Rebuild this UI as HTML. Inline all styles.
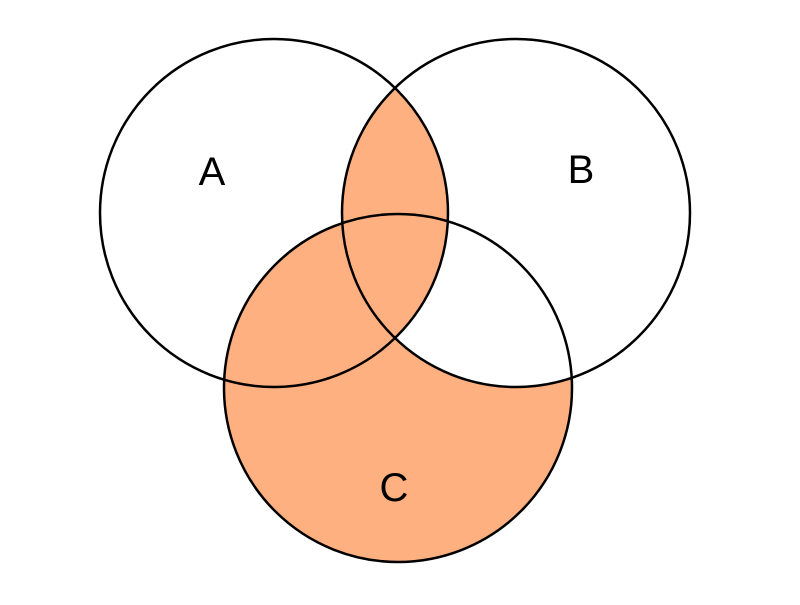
<!DOCTYPE html>
<html><head><meta charset="utf-8"><style>html,body{margin:0;padding:0;background:#fff}</style></head>
<body>
<svg width="800" height="600" viewBox="0 0 800 600" xmlns="http://www.w3.org/2000/svg">
<defs>
<clipPath id="cC"><circle cx="398" cy="388" r="174"/></clipPath>
<clipPath id="cB"><circle cx="516" cy="213" r="174"/></clipPath>
</defs>
<rect width="800" height="600" fill="#fff"/>
<circle cx="398" cy="388" r="174" fill="#FFB080"/>
<circle cx="516" cy="213" r="174" fill="#fff" clip-path="url(#cC)"/>
<circle cx="274" cy="213" r="174" fill="#FFB080" clip-path="url(#cB)"/>
<g fill="none" stroke="#000" stroke-width="2.5">
<circle cx="274" cy="213" r="174"/>
<circle cx="516" cy="213" r="174"/>
<circle cx="398" cy="388" r="174"/>
</g>
<g font-family="Liberation Sans, sans-serif" font-size="40" fill="#000" text-anchor="middle">
<text x="212" y="185">A</text>
<text x="581" y="183">B</text>
<text x="394" y="501">C</text>
</g>
</svg>
</body></html>
